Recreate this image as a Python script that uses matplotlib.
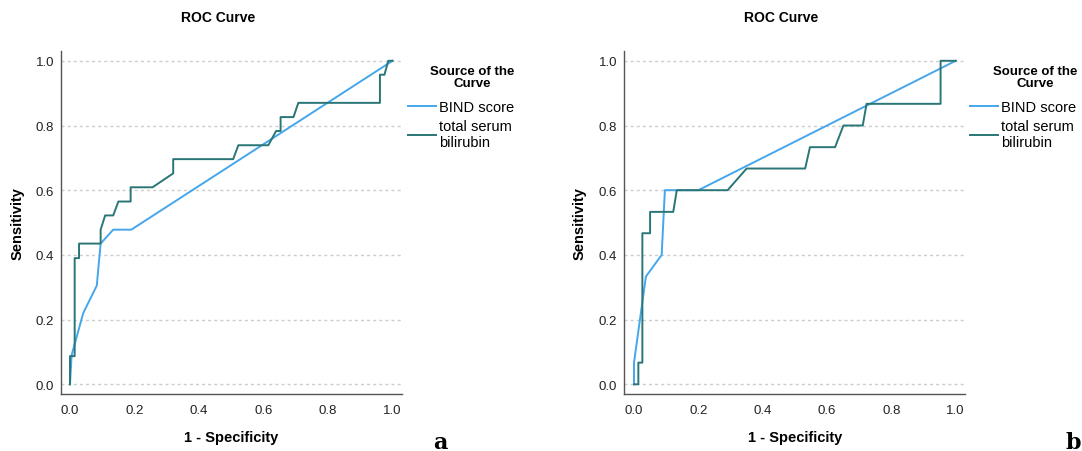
import matplotlib
matplotlib.use("Agg")
import matplotlib.pyplot as plt

plt.rcParams['font.family'] = ['Liberation Sans', 'DejaVu Sans']

# Panel a data
a_bind_x = [0.0, 0.005, 0.041, 0.083, 0.095, 0.134, 0.19, 1.0]
a_bind_y = [0.0, 0.09, 0.22, 0.305, 0.435, 0.478, 0.478, 1.0]
a_tsb_x = [0.0, 0.0, 0.0145, 0.0145, 0.028, 0.028, 0.095, 0.095, 0.109, 0.134, 0.15,
           0.188, 0.188, 0.256, 0.32, 0.32, 0.506, 0.522, 0.615, 0.639, 0.653, 0.653,
           0.693, 0.708, 0.961, 0.961, 0.975, 0.987, 1.0]
a_tsb_y = [0.0, 0.087, 0.087, 0.39, 0.39, 0.435, 0.435, 0.478, 0.522, 0.522, 0.565,
           0.565, 0.609, 0.609, 0.652, 0.696, 0.696, 0.739, 0.739, 0.783, 0.783, 0.826,
           0.826, 0.870, 0.870, 0.957, 0.957, 1.0, 1.0]

# Panel b data
b_bind_x = [0.0, 0.0, 0.037, 0.086, 0.096, 0.2, 1.0]
b_bind_y = [0.0, 0.067, 0.333, 0.40, 0.60, 0.60, 1.0]
b_tsb_x = [0.0, 0.0135, 0.0135, 0.026, 0.026, 0.05, 0.05, 0.122, 0.133, 0.291, 0.35,
           0.532, 0.547, 0.625, 0.651, 0.711, 0.723, 0.953, 0.953, 1.0]
b_tsb_y = [0.0, 0.0, 0.067, 0.067, 0.467, 0.467, 0.533, 0.533, 0.60, 0.60, 0.667,
           0.667, 0.733, 0.733, 0.80, 0.80, 0.867, 0.867, 1.0, 1.0]

ticks = [0.0, 0.2, 0.4, 0.6, 0.8, 1.0]
tick_labels = ["0.0", "0.2", "0.4", "0.6", "0.8", "1.0"]
series_names = ["BIND score", "total serum\nbilirubin"]
legend_title = "Source of the\nCurve"
panel_title = "ROC Curve"
panel_letters = ["a", "b"]

BLUE = "#45a6ec"
TEAL = "#2a7676"
W, H = 1082, 452

fig = plt.figure(figsize=(W / 100, H / 100), dpi=100)

panels = [
    dict(left=61, right=402, x0=70, xscale=322.5, bx=a_bind_x, by=a_bind_y,
         tx=a_tsb_x, ty=a_tsb_y, title_x=218, leg_x=408, legt_x=472, letter_x=440,
         ylab_x=25),
    dict(left=624.3, right=965, x0=634, xscale=321.7, bx=b_bind_x, by=b_bind_y,
         tx=b_tsb_x, ty=b_tsb_y, title_x=781, leg_x=970, legt_x=1035, letter_x=1073,
         ylab_x=587),
]
top_px, bot_px, y0_px, yscale = 51.7, 395.0, 385.3, 323.5

for i, p in enumerate(panels):
    ax = fig.add_axes([p['left'] / W, 1 - bot_px / H,
                       (p['right'] - p['left']) / W, (bot_px - top_px) / H])
    xmin = -(p['x0'] - p['left']) / p['xscale']
    xmax = xmin + (p['right'] - p['left']) / p['xscale']
    ymin = -(bot_px - y0_px) / yscale
    ymax = ymin + (bot_px - top_px) / yscale
    for t in ticks:
        ax.axhline(t, color="#cdcdcd", lw=1.0, ls=(0, (2.2, 2.2)), zorder=0)
    l1, = ax.plot(p['bx'], p['by'], color=BLUE, lw=1.4, label=series_names[0])
    l2, = ax.plot(p['tx'], p['ty'], color=TEAL, lw=1.4, label=series_names[1])
    ax.set_xlim(xmin, xmax)
    ax.set_ylim(ymin, ymax)
    ax.set_xticks(ticks)
    ax.set_xticklabels(tick_labels)
    ax.set_yticks(ticks)
    ax.set_yticklabels(tick_labels)
    ax.tick_params(axis='x', length=0, labelsize=9.5, colors="#222222", pad=7)
    ax.tick_params(axis='y', length=0, labelsize=9.5, colors="#222222", pad=5)
    for s in ["top", "right"]:
        ax.spines[s].set_visible(False)
    for s in ["left", "bottom"]:
        ax.spines[s].set_color("#555555")
        ax.spines[s].set_linewidth(1.0)
    ax.set_xlabel("1 - Specificity", fontsize=10.5, fontweight="bold")
    ax.set_ylabel("Sensitivity", fontsize=10.5, fontweight="bold")
    ax.xaxis.set_label_coords(0.5, (bot_px - 431) / (bot_px - top_px))
    ax.yaxis.set_label_coords((p['ylab_x'] - p['left']) / (p['right'] - p['left']), 0.5)
    fig.text(p['title_x'] / W, 1 - 18 / H, panel_title, fontsize=10,
             fontweight="bold", ha="center", va="center")
    # legend title
    fig.text(p['legt_x'] / W, 1 - 78 / H, legend_title, fontsize=9.5,
             fontweight="bold", ha="center", va="center", multialignment="center",
             linespacing=0.95)
    fig.legend(handles=[l1, l2], frameon=False,
               loc="upper left", bbox_to_anchor=(p['leg_x'] / W, 1 - 101 / H),
               fontsize=10.5, handlelength=1.9, handletextpad=0.2,
               labelspacing=0.35, borderpad=0.0, borderaxespad=0)
    fig.text(p['letter_x'] / W, 1 - 449 / H, panel_letters[i], fontsize=16,
             fontweight="bold", family="DejaVu Serif", ha="center", va="baseline")

fig.savefig("out.png", dpi=100)
